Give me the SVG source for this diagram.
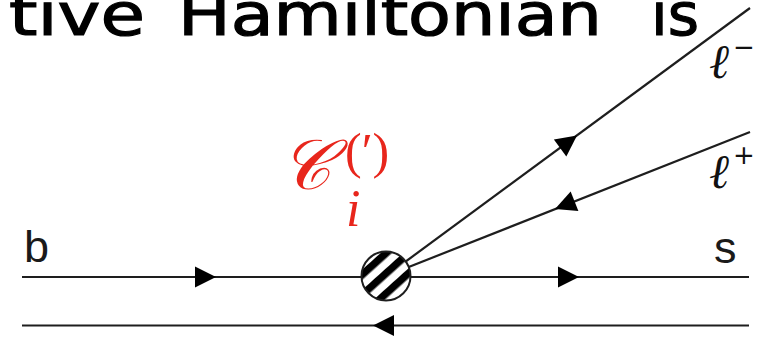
<svg xmlns="http://www.w3.org/2000/svg" xmlns:xlink="http://www.w3.org/1999/xlink" width="771" height="337" viewBox="0 0 771 337">
<style>
.ln{stroke:#1e1e1e;stroke-width:2.2;fill:none;stroke-linecap:butt}
.arr{fill:#000}
.lab{font-family:"Liberation Sans",Arial,sans-serif;font-size:45px;fill:#1a1a1a}
.lep{font-family:"DejaVu Serif",serif;font-style:italic;font-size:48px;fill:#111}
.sup{font-family:"DejaVu Sans","Liberation Sans",sans-serif;font-size:26px;fill:#111}
.title{font-family:"DejaVu Sans","Noto Sans",sans-serif;font-size:58px;fill:#000;stroke:#000;stroke-width:1.2}
.red{font-family:"Liberation Serif","DejaVu Serif",serif;fill:#e8261c}
</style>
<defs>
<path id="tri" d="M0,0 L-21,-10.5 L-21,10.5 Z"/>
<pattern id="stripes" patternUnits="userSpaceOnUse" width="15" height="15" patternTransform="translate(382,272) rotate(48)">
<rect x="0" y="0" width="7.5" height="15" fill="#000"/>
</pattern>
</defs>
<g id="title">
<text class="title" y="35"><tspan x="9" textLength="136" lengthAdjust="spacingAndGlyphs">tive</tspan><tspan x="178" textLength="424" lengthAdjust="spacingAndGlyphs">Hamiltonian</tspan><tspan x="651" textLength="48" lengthAdjust="spacingAndGlyphs">is</tspan></text>
</g>
<g id="connectors">
<line class="ln" x1="22" y1="277" x2="749" y2="277"/>
<line class="ln" x1="22" y1="325.5" x2="749" y2="325.5"/>
<line class="ln" x1="386" y1="276" x2="750" y2="8"/>
<line class="ln" x1="386" y1="276" x2="750" y2="132"/>
<use xlink:href="#tri" class="arr" transform="translate(216,277)"/>
<use xlink:href="#tri" class="arr" transform="translate(579,277)"/>
<use xlink:href="#tri" class="arr" transform="translate(373,325.5) rotate(180)"/>
<use xlink:href="#tri" class="arr" transform="translate(577,135.5) rotate(-36.4)"/>
<use xlink:href="#tri" class="arr" transform="translate(555,209) rotate(158.4)"/>
</g>
<g id="vertex">
<circle cx="386" cy="276" r="24.5" fill="#fff"/>
<circle cx="386" cy="276" r="24.5" fill="url(#stripes)" stroke="#1e1e1e" stroke-width="2"/>
</g>
<g id="node-b"><text class="lab" x="24" y="262">b</text></g>
<g id="node-s"><text class="lab" x="714" y="263">s</text></g>
<g id="node-lminus"><text class="lep" x="709" y="78">ℓ<tspan class="sup" dx="4" dy="-22">−</tspan></text></g>
<g id="node-lplus"><text class="lep" x="709" y="188">ℓ<tspan class="sup" dx="4" dy="-24">+</tspan></text></g>
<g id="coupling">
<text class="red" x="280" y="189" font-size="70" font-style="italic">𝒞</text>
<text class="red" x="345" y="168" font-size="50">(′)</text>
<text class="red" x="346" y="226" font-size="52" font-style="italic">i</text>
</g>
</svg>
